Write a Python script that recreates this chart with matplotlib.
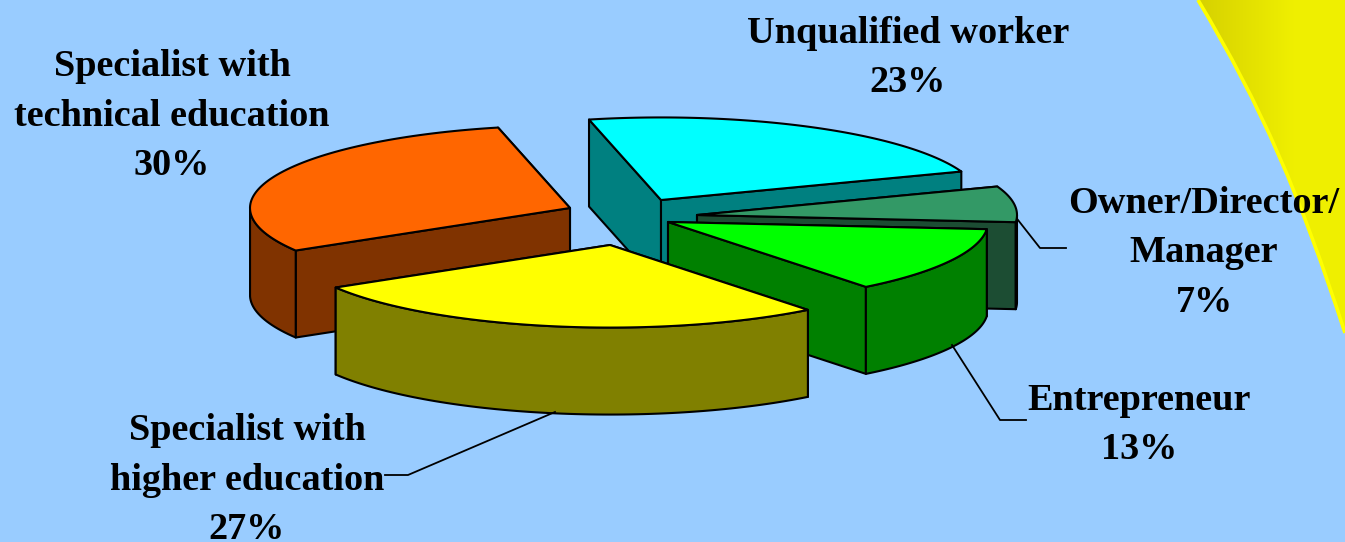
import numpy as np
import matplotlib
matplotlib.use("Agg")
import matplotlib.pyplot as plt
from matplotlib.patches import PathPatch, Polygon
from matplotlib.path import Path

labels = ["Unqualified worker", "Owner/Director/\nManager", "Entrepreneur",
          "Specialist with\nhigher education", "Specialist with\ntechnical education"]
shares = [23, 7, 13, 27, 30]

top_colors = ["#00FFFF", "#339966", "#00FF00", "#FFFF00", "#FF6600"]
side_colors = ["#008080", "#1C4D33", "#008000", "#808000", "#803300"]

# where each exploded slice has its tip, in pixels of the picture
tips = [(661, 200), (697, 215), (668, 222), (610, 245), (570, 208)]
draw_order = [0, 4, 1, 2, 3]

label_pos = [(908, 58), (1204, 253), (1139, 425), (247, 480), (172, 116)]

leaders = [
    [(1018, 220), (1040, 248), (1066, 248)],
    [(952, 345), (1000, 420), (1026, 420)],
    [(555, 412), (408, 475), (385, 475)],
]

START_ANGLE = 103
RADIUS = 320
SQUASH = 0.258
DEPTH = 87
LW = 1.5


def rim(tip, angles):
    a = np.radians(angles)
    return np.column_stack(
        [tip[0] + RADIUS * np.cos(a), tip[1] - RADIUS * SQUASH * np.sin(a)]
    )


def draw_slice(ax, tip, a0, a1, top, side):
    # a0 > a1, slices run clockwise
    angles = np.linspace(a0, a1, 80)
    edge = rim(tip, angles)
    down = np.array([0, DEPTH])
    tip_arr = np.array(tip, dtype=float)

    faces = []
    for end in (edge[0], edge[-1]):
        faces.append(np.array([tip_arr, end, end + down, tip_arr + down]))
    # nearer wall goes last, it sits on top of the other one
    faces.sort(key=lambda f: f[:, 1].mean())

    # only the part of the rim facing the viewer has a wall
    front = edge[np.sin(np.radians(angles)) < 0]
    if len(front) > 1:
        faces.append(np.vstack([front, (front + down)[::-1]]))

    for face in faces:
        ax.add_patch(Polygon(face, closed=True, fc=side, ec="black", lw=LW,
                             joinstyle="round"))
    ax.add_patch(Polygon(np.vstack([tip_arr, edge]), closed=True, fc=top,
                         ec="black", lw=LW, joinstyle="round"))


def draw_swoosh(ax):
    verts = [(1198, 0), (1262, 107), (1300, 195), (1345, 333),
             (1345, 0), (1198, 0)]
    codes = [Path.MOVETO, Path.CURVE4, Path.CURVE4, Path.CURVE4,
             Path.LINETO, Path.CLOSEPOLY]
    shape = PathPatch(Path(verts, codes), fc="none", ec="none",
                      transform=ax.transData)
    ax.add_patch(shape)
    # dull yellow on the left, brighter to the right
    grad = np.linspace(0, 1, 150).reshape(1, -1, 1)
    low = np.array([0.84, 0.82, 0.0]).reshape(1, 1, 3)
    high = np.array([0.94, 0.94, 0.0]).reshape(1, 1, 3)
    img = ax.imshow(low + (high - low) * np.minimum(grad * 1.5, 1),
                    extent=(1198, 1345, 333, 0), aspect="auto", zorder=0.5)
    img.set_clip_path(shape)
    ax.add_patch(PathPatch(Path(verts[:4], codes[:4]), fc="none", ec="#FFFF00",
                           lw=2.6, zorder=0.6))


def main():
    fig = plt.figure(figsize=(13.45, 5.42), dpi=100, facecolor="#99CCFF")
    ax = fig.add_axes([0, 0, 1, 1])
    ax.set_facecolor("#99CCFF")
    draw_swoosh(ax)
    ax.set_xlim(0, 1345)
    ax.set_ylim(542, 0)
    ax.axis("off")

    total = sum(shares)
    ends = START_ANGLE - np.cumsum(shares) / total * 360
    starts = np.concatenate([[START_ANGLE], ends[:-1]])
    for i in draw_order:
        draw_slice(ax, tips[i], starts[i], ends[i], top_colors[i], side_colors[i])

    for line in leaders:
        xs, ys = zip(*line)
        ax.plot(xs, ys, color="black", lw=1.3)

    for label, share, (x, y) in zip(labels, shares, label_pos):
        ax.text(x, y, f"{label}\n{share}%", ha="center", va="center",
                family="Liberation Serif", weight="bold", fontsize=27.5,
                linespacing=1.52, color="black")

    fig.savefig("out.png", dpi=100, facecolor=fig.get_facecolor())


if __name__ == "__main__":
    main()
